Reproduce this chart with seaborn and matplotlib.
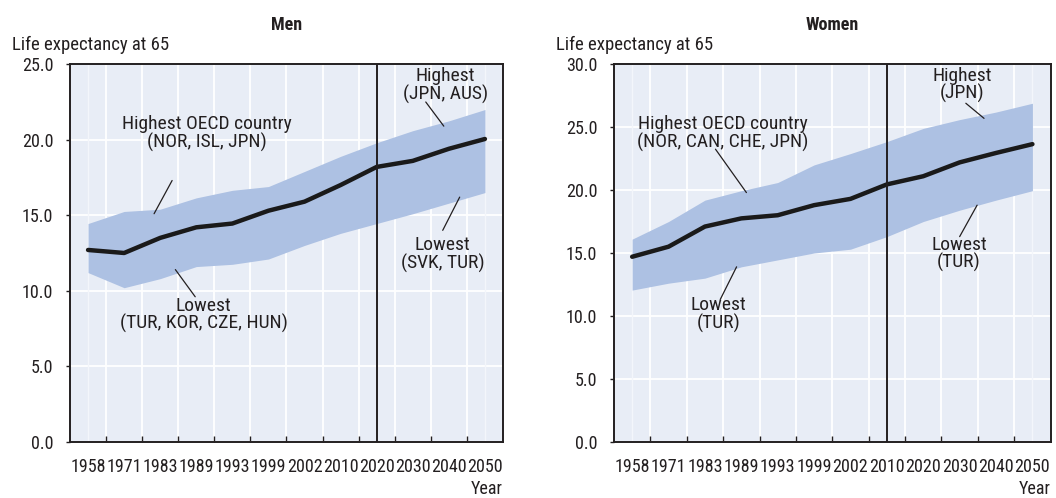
import numpy as np
import pandas as pd
import matplotlib.pyplot as plt
import seaborn as sns

# ── Data ───────────────────────────────────────────
years = ["1958", "1971", "1983", "1989", "1993", "1999",
         "2002", "2010", "2020", "2030", "2040", "2050"]

men_mean = [12.7, 12.5, 13.5, 14.2, 14.45, 15.3, 15.9, 17.0, 18.2, 18.6, 19.4, 20.05]
men_high = [14.45, 15.25, 15.4, 16.15, 16.65, 16.9, 17.9, 18.9, 19.8, 20.6, 21.25, 22.0]
men_low  = [11.2, 10.2, 10.8, 11.6, 11.75, 12.1, 13.0, 13.8, 14.45, 15.1, 15.8, 16.5]

women_mean = [14.7, 15.5, 17.1, 17.75, 18.0, 18.8, 19.3, 20.45, 21.1, 22.2, 22.95, 23.65]
women_high = [16.1, 17.5, 19.2, 19.95, 20.6, 22.0, 22.9, 23.85, 24.9, 25.6, 26.2, 26.9]
women_low  = [12.05, 12.6, 13.0, 13.9, 14.45, 15.0, 15.3, 16.3, 17.5, 18.4, 19.2, 19.95]

BG = "#e8edf6"
BAND = "#adc1e3"
FONT = ["DejaVu Sans Condensed", "Roboto Condensed", "Liberation Sans Narrow",
        "Open Sans Condensed", "Roboto"]

sns.set_theme(style="ticks")
plt.rcParams["font.family"] = FONT
plt.rcParams["font.stretch"] = "condensed"
plt.rcParams["text.color"] = "#231f20"
plt.rcParams["xtick.color"] = "#231f20"
plt.rcParams["ytick.color"] = "#231f20"

fig = plt.figure(figsize=(10.56, 4.98), dpi=100)
ax_m = fig.add_axes([0.0663, 0.113, 0.410, 0.758])
ax_w = fig.add_axes([0.5814, 0.113, 0.4135, 0.758])

pos = np.arange(len(years))


def draw_panel(ax, mean, low, high, title, ymax, proj_year):
    ax.set_facecolor(BG)
    ax.fill_between(pos, low, high, color=BAND, lw=0, zorder=2)
    sns.lineplot(x=pos, y=mean, ax=ax, color="#1a1a1a", lw=3.2,
                 zorder=3, legend=False)
    ax.axvline(years.index(proj_year), color="#231f20", lw=1.4, zorder=4)

    # faint lines at the band edges
    for p in (pos[0], pos[-1]):
        ax.axvline(p, color="#f3f6fb", lw=1.0, zorder=1)

    ax.set_xlim(-0.5, len(years) - 0.5)
    ax.set_ylim(0, ymax)
    ax.set_xticks(pos)
    ax.set_xticklabels(years, fontsize=13)
    ax.set_xticks(pos[:-1] + 0.5, minor=True)
    ax.tick_params(axis="x", which="major", length=0, pad=12)
    ax.tick_params(axis="x", which="minor", direction="in", length=4,
                   width=1, color="#231f20")
    ax.set_yticks(np.arange(0, ymax + 0.1, 5))
    ax.set_yticklabels([f"{v:.1f}" for v in np.arange(0, ymax + 0.1, 5)],
                       fontsize=13)
    ax.tick_params(axis="y", direction="out", length=3, width=1, pad=9)

    ax.grid(False)
    ax.xaxis.grid(True, which="minor", color="white", lw=1.3, zorder=1)
    ax.yaxis.grid(True, which="major", color="white", lw=1.3, zorder=1)
    ax.set_axisbelow(True)

    for s in ax.spines.values():
        s.set_visible(True)
        s.set_color("#231f20")
        s.set_linewidth(1.4)

    ax.set_xlabel("")
    ax.set_ylabel("")
    ax.set_title(title, fontsize=13, fontweight="bold", pad=25)
    bb = ax.get_position()
    fig.text(bb.x0 - 58 / 1056, 1 - 45 / 498, "Life expectancy at 65",
             fontsize=13.5, ha="left", va="center")
    fig.text(bb.x1, 1 - 489 / 498, "Year", fontsize=13,
             ha="right", va="center")


def note(ax, text, txy, p0, p1):
    ax.text(txy[0], txy[1], text, ha="center", va="center",
            fontsize=14, linespacing=0.95, zorder=5)
    ax.plot([p0[0], p1[0]], [p0[1], p1[1]], color="#231f20", lw=0.9, zorder=5)


draw_panel(ax_m, men_mean, men_low, men_high, "Men", 25, "2020")
draw_panel(ax_w, women_mean, women_low, women_high, "Women", 30, "2010")

note(ax_m, "Highest OECD country\n(NOR, ISL, JPN)", (3.3, 20.4), (1.83, 15.1), (2.33, 17.3))
note(ax_m, "Highest\n(JPN, AUS)", (9.9, 23.6), (9.36, 22.5), (9.86, 20.9))
note(ax_m, "Lowest\n(SVK, TUR)", (9.83, 12.4), (10.3, 16.2), (9.83, 14.0))
note(ax_m, "Lowest\n(TUR, KOR, CZE, HUN)", (3.2, 8.4), (2.42, 11.4), (2.97, 9.6))

note(ax_w, "Highest OECD country\n(NOR, CAN, CHE, JPN)", (2.48, 24.5), (2.29, 23.25), (3.14, 19.8))
note(ax_w, "Highest\n(JPN)", (9.06, 28.35), (9.17, 26.9), (9.67, 25.7))
note(ax_w, "Lowest\n(TUR)", (8.98, 14.9), (9.48, 18.8), (9.0, 16.3))
note(ax_w, "Lowest\n(TUR)", (2.37, 10.1), (2.87, 13.9), (2.42, 11.3))

fig.savefig("out.png", dpi=100)
